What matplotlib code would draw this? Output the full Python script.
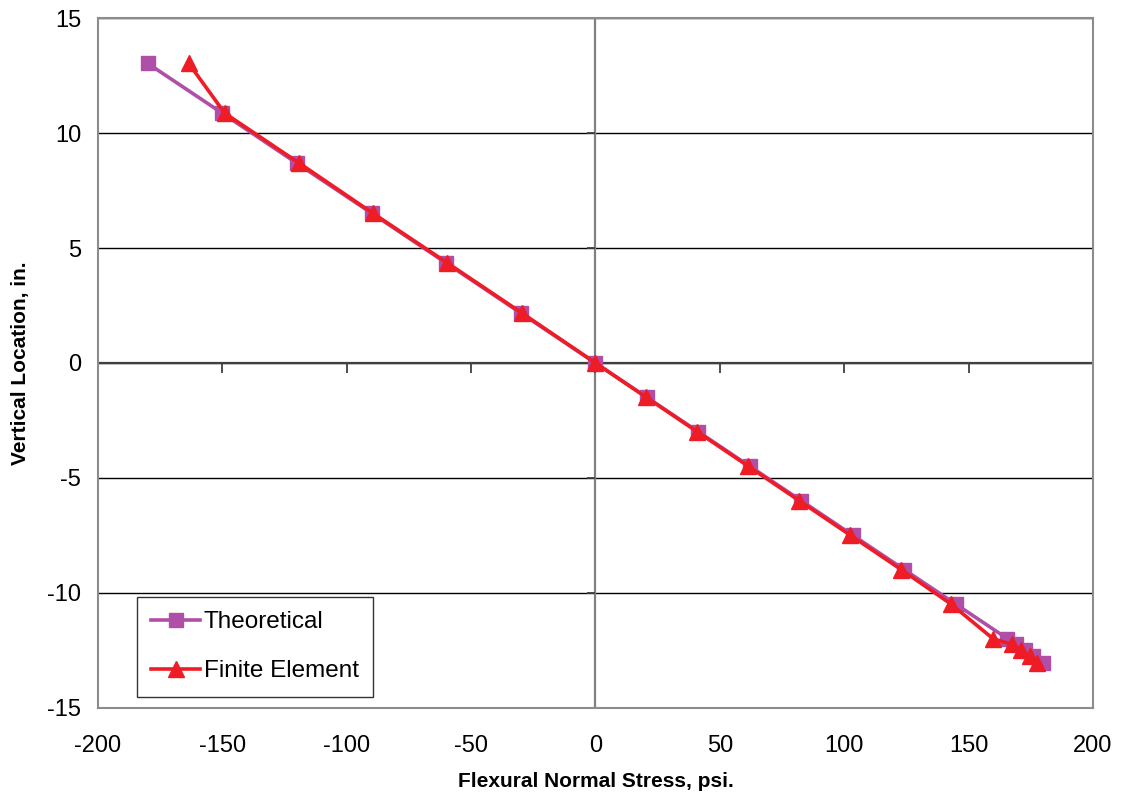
import matplotlib
matplotlib.use("Agg")
import matplotlib.pyplot as plt
from matplotlib.markers import TICKDOWN, TICKLEFT

plt.rcParams["font.family"] = ["Liberation Sans", "DejaVu Sans"]
plt.rcParams["axes.unicode_minus"] = False

# vertical location of the nodes, in.
depth = [13.04, 10.87, 8.69, 6.52, 4.35, 2.17, 0, -1.5, -3, -4.5, -6, -7.5,
         -9, -10.5, -12, -12.25, -12.5, -12.75, -13.04]
theoretical = [-180, -150, -120, -90, -60, -30, 0, 20.7, 41.4, 62.1, 82.8,
               103.5, 124.2, 144.9, 165.6, 169.1, 172.5, 176.0, 180]
finite_element = [-163.5, -149, -119, -89.5, -59.5, -29.5, 0, 20.5, 41, 61.5,
                  82, 102.5, 123, 143, 159.8, 167.5, 171, 174.5, 177.5]

x_ticks = [-200, -150, -100, -50, 0, 50, 100, 150, 200]
y_ticks = [-15, -10, -5, 0, 5, 10, 15]

fig = plt.figure(figsize=(11.25, 7.96), dpi=100)
ax = fig.add_axes([0.087, 0.111, 0.8846, 0.866])

# horizontal gridlines
for y in y_ticks:
    ax.axhline(y, color="black", lw=1.0, zorder=1)
# zero axes with Excel-style tick marks
ax.axhline(0, color="#404040", lw=1.6, zorder=1)
ax.axvline(0, color="#808080", lw=1.6, zorder=1)
ax.plot(x_ticks, [0] * len(x_ticks), ls="none", marker=TICKDOWN,
        ms=7, mew=1.3, color="#404040", zorder=1)
ax.plot([0] * len(y_ticks), y_ticks, ls="none", marker=TICKLEFT,
        ms=6, mew=1.3, color="#404040", zorder=1)

ax.plot(theoretical, depth, color="#B04FA8", lw=2.6, marker="s", ms=10,
        label="Theoretical", zorder=3)
ax.plot(finite_element, depth, color="#EE1C25", lw=2.6, marker="^", ms=11,
        label="Finite Element", zorder=4)

ax.set_xlim(-200, 200)
ax.set_ylim(-15, 15)
ax.set_xticks(x_ticks)
ax.set_yticks(y_ticks)
ax.tick_params(axis="x", length=0, pad=20, labelsize=17)
ax.tick_params(axis="y", length=0, pad=12, labelsize=17)
for s in ax.spines.values():
    s.set_color("#8C8C8C")
    s.set_linewidth(1.5)

ax.set_xlabel("Flexural Normal Stress, psi.", fontsize=15, fontweight="bold")
ax.set_ylabel("Vertical Location, in.", fontsize=15, fontweight="bold")
ax.xaxis.set_label_coords(0.5, -0.094)
ax.yaxis.set_label_coords(-0.068, 0.5)

leg = ax.legend(loc="upper left", bbox_to_anchor=(0.039, 0.161), fontsize=17.5,
                frameon=True, fancybox=False, edgecolor="black",
                handlelength=2.0, handletextpad=0.15, borderpad=0.6,
                borderaxespad=0, labelspacing=1.1)
leg.get_frame().set_linewidth(1.0)

fig.savefig("out.png", dpi=100)
plt.close(fig)
